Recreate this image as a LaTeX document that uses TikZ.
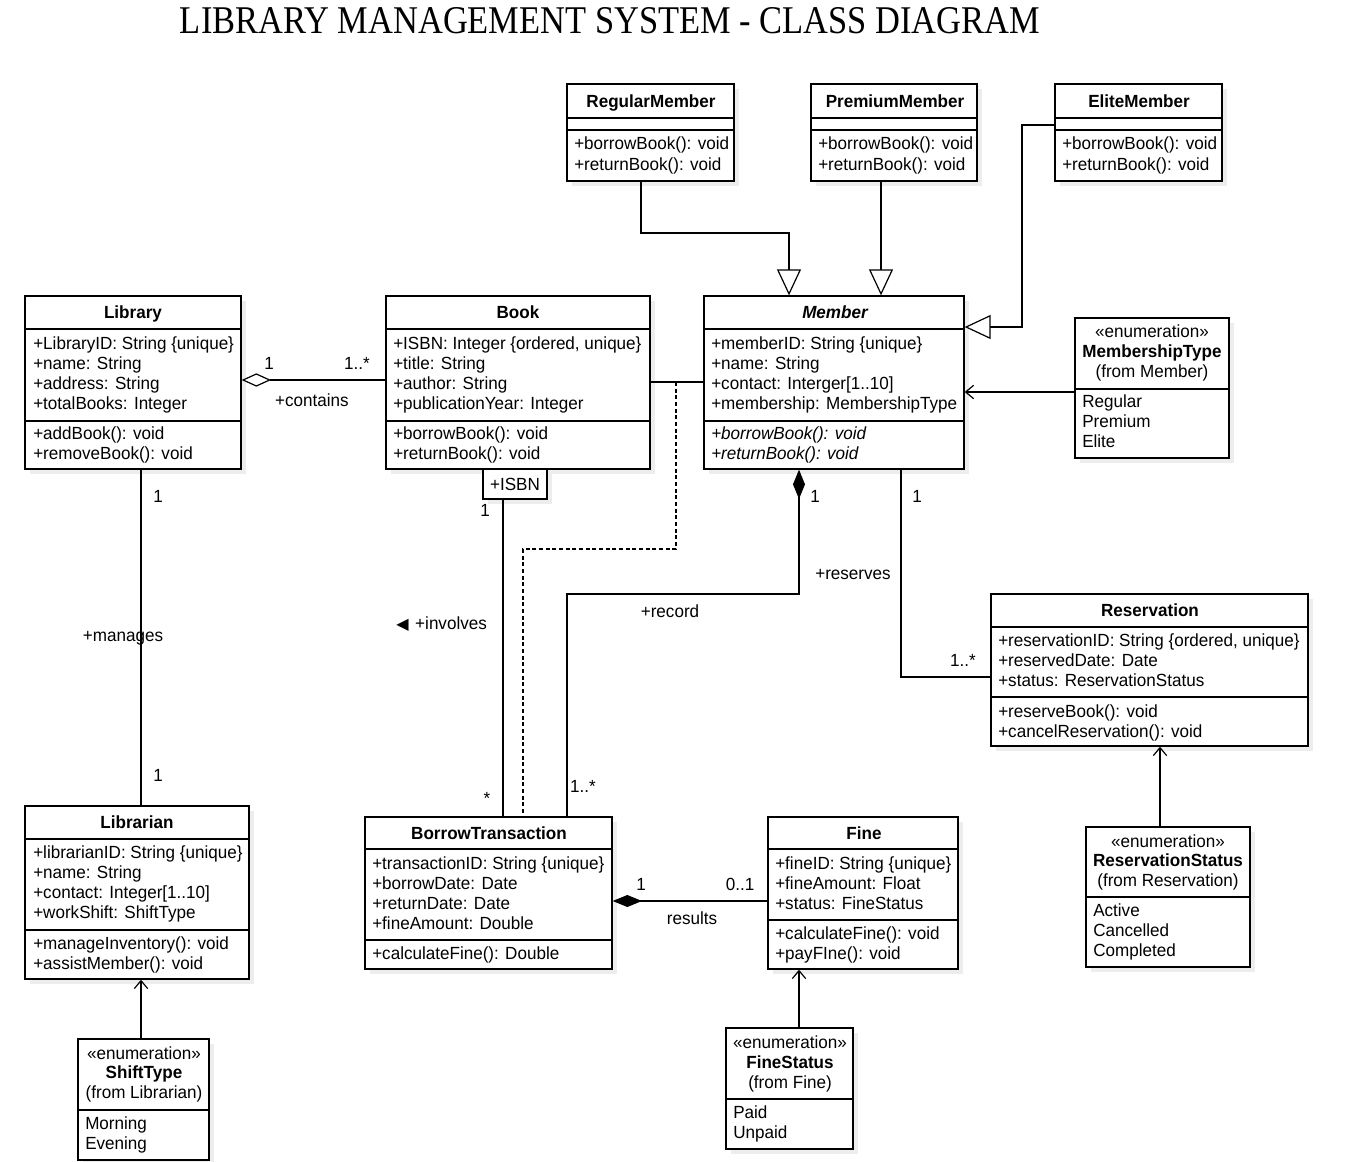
\documentclass[tikz,border=0pt]{standalone}
\usepackage{fontspec}
\usepackage{graphicx}
\setmainfont{Liberation Sans}[FakeStretch=0.97]
\newfontfamily\titlefont{Liberation Serif}
\newfontfamily\symfont{DejaVu Sans}
\usetikzlibrary{arrows.meta,fit,calc,shadows}
\newcommand\cls[5]{\node[box, fit={(#2,#3) (#4,#5)}] (#1) {};}
\newcommand\csep[2]{\draw[boxline] (#1.west |- 0,#2) -- (#1.east |- 0,#2);}
\newcommand\txL[4]{\node[lbl, anchor=west] (#1) at (#2,#3) {#4};}
\newcommand\txC[4]{\node[lbl] (#1) at (#2,#3) {#4};}
\begin{document}
\begin{tikzpicture}[x=0.75pt,y=-0.75pt,
  every node/.style={font=\fontsize{13.2}{15}\selectfont},
  box/.style={draw, fill=white, line width=1pt, inner sep=0pt,
     drop shadow={shadow xshift=4pt, shadow yshift=-4pt, fill=black!7, opacity=1}},
  boxline/.style={line width=1pt},
  lbl/.style={inner sep=0pt, text height=12.6pt, text depth=3pt},
  conn/.style={line width=0.9pt},
  gen/.style={conn, -{Triangle[length=19.5pt,width=18pt,fill=white]}},
  nav/.style={conn, -{Straight Barb[length=6pt,width=10pt]}},
  comp/.style={conn, {Diamond[length=22pt,width=9pt]}-},
  aggr/.style={conn, {Diamond[length=22pt,width=10pt,fill=white]}-},
  mult/.style={lbl}
]
\useasboundingbox (0,0) rectangle (1353,1162);
\fill[white] (0,0) rectangle (1353,1162);

% title
\node[inner sep=0pt, anchor=base] (title) at (610,34) {\resizebox{645pt}{19.5pt}{\titlefont LIBRARY MANAGEMENT SYSTEM - CLASS DIAGRAM}};

% RegularMember
\cls{reg}{567}{84}{734}{181}
\csep{reg}{118}\csep{reg}{130}
\txC{reg-n}{651}{101}{\bfseries RegularMember}
\txL{reg-o1}{574}{143}{+borrowBook(): void}
\txL{reg-o2}{574}{164}{+returnBook(): void}
% PremiumMember
\cls{pre}{811}{84}{977}{181}
\csep{pre}{118}\csep{pre}{130}
\txC{pre-n}{895}{101}{\bfseries PremiumMember}
\txL{pre-o1}{818}{143}{+borrowBook(): void}
\txL{pre-o2}{818}{164}{+returnBook(): void}
% EliteMember
\cls{eli}{1055}{84}{1222}{181}
\csep{eli}{118}\csep{eli}{130}
\txC{eli-n}{1139}{101}{\bfseries EliteMember}
\txL{eli-o1}{1062}{143}{+borrowBook(): void}
\txL{eli-o2}{1062}{164}{+returnBook(): void}

% Library
\cls{lib}{25}{296}{241}{469}
\csep{lib}{329}\csep{lib}{421}
\txC{lib-n}{133}{312}{\bfseries Library}
\txL{lib-a1}{33}{343}{+LibraryID: String \{unique\}}
\txL{lib-a2}{33}{363}{+name: String}
\txL{lib-a3}{33}{383}{+address: String}
\txL{lib-a4}{33}{403}{+totalBooks: Integer}
\txL{lib-o1}{33}{433}{+addBook(): void}
\txL{lib-o2}{33}{453}{+removeBook(): void}

% Book
\cls{book}{386}{296}{650}{469}
\csep{book}{329}\csep{book}{421}
\txC{book-n}{518}{312}{\bfseries Book}
\txL{book-a1}{393}{343}{+ISBN: Integer \{ordered, unique\}}
\txL{book-a2}{393}{363}{+title: String}
\txL{book-a3}{393}{383}{+author: String}
\txL{book-a4}{393}{403}{+publicationYear: Integer}
\txL{book-o1}{393}{433}{+borrowBook(): void}
\txL{book-o2}{393}{453}{+returnBook(): void}
% qualifier
\cls{isbn}{483}{469}{547}{499}
\txC{isbn-t}{515}{484}{+ISBN}

% Member
\cls{mem}{704}{296}{964}{469}
\csep{mem}{329}\csep{mem}{421}
\txC{mem-n}{835}{312}{\bfseries\itshape Member}
\txL{mem-a1}{711}{343}{+memberID: String \{unique\}}
\txL{mem-a2}{711}{363}{+name: String}
\txL{mem-a3}{711}{383}{+contact: Interger[1..10]}
\txL{mem-a4}{711}{403}{+membership: MembershipType}
\txL{mem-o1}{711}{433}{\itshape +borrowBook(): void}
\txL{mem-o2}{711}{453}{\itshape +returnBook(): void}

% MembershipType
\cls{mt}{1075}{318}{1229}{458}
\csep{mt}{389}
\txC{mt-s}{1152}{331}{«enumeration»}
\txC{mt-n}{1152}{351}{\bfseries MembershipType}
\txC{mt-f}{1152}{371}{(from Member)}
\txL{mt-1}{1082}{401}{Regular}
\txL{mt-2}{1082}{421}{Premium}
\txL{mt-3}{1082}{441}{Elite}

% Reservation
\cls{res}{991}{594}{1308}{746}
\csep{res}{627}\csep{res}{697}
\txC{res-n}{1150}{610}{\bfseries Reservation}
\txL{res-a1}{998}{640}{+reservationID: String \{ordered, unique\}}
\txL{res-a2}{998}{660}{+reservedDate: Date}
\txL{res-a3}{998}{680}{+status: ReservationStatus}
\txL{res-o1}{998}{711}{+reserveBook(): void}
\txL{res-o2}{998}{731}{+cancelReservation(): void}

% Librarian
\cls{lbn}{25}{806}{249}{979}
\csep{lbn}{839}\csep{lbn}{930}
\txC{lbn-n}{137}{822}{\bfseries Librarian}
\txL{lbn-a1}{33}{852}{+librarianID: String \{unique\}}
\txL{lbn-a2}{33}{872}{+name: String}
\txL{lbn-a3}{33}{892}{+contact: Integer[1..10]}
\txL{lbn-a4}{33}{912}{+workShift: ShiftType}
\txL{lbn-o1}{33}{943}{+manageInventory(): void}
\txL{lbn-o2}{33}{963}{+assistMember(): void}

% BorrowTransaction
\cls{bt}{365}{817}{612}{969}
\csep{bt}{849}\csep{bt}{940}
\txC{bt-n}{489}{833}{\bfseries BorrowTransaction}
\txL{bt-a1}{372}{863}{+transactionID: String \{unique\}}
\txL{bt-a2}{372}{883}{+borrowDate: Date}
\txL{bt-a3}{372}{903}{+returnDate: Date}
\txL{bt-a4}{372}{923}{+fineAmount: Double}
\txL{bt-o1}{372}{953}{+calculateFine(): Double}

% Fine
\cls{fine}{768}{817}{958}{969}
\csep{fine}{849}\csep{fine}{920}
\txC{fine-n}{864}{833}{\bfseries Fine}
\txL{fine-a1}{775}{863}{+fineID: String \{unique\}}
\txL{fine-a2}{775}{883}{+fineAmount: Float}
\txL{fine-a3}{775}{903}{+status: FineStatus}
\txL{fine-o1}{775}{933}{+calculateFine(): void}
\txL{fine-o2}{775}{953}{+payFIne(): void}

% ReservationStatus
\cls{rs}{1086}{827}{1250}{967}
\csep{rs}{897}
\txC{rs-s}{1168}{841}{«enumeration»}
\txC{rs-n}{1168}{860}{\bfseries ReservationStatus}
\txC{rs-f}{1168}{880}{(from Reservation)}
\txL{rs-1}{1093}{910}{Active}
\txL{rs-2}{1093}{930}{Cancelled}
\txL{rs-3}{1093}{950}{Completed}

% ShiftType
\cls{st}{78}{1039}{209}{1160}
\csep{st}{1110}
\txC{st-s}{144}{1053}{«enumeration»}
\txC{st-n}{144}{1072}{\bfseries ShiftType}
\txC{st-f}{144}{1092}{(from Librarian)}
\txL{st-1}{85}{1123}{Morning}
\txL{st-2}{85}{1143}{Evening}

% FineStatus
\cls{fs}{726}{1028}{853}{1149}
\csep{fs}{1099}
\txC{fs-s}{790}{1042}{«enumeration»}
\txC{fs-n}{790}{1062}{\bfseries FineStatus}
\txC{fs-f}{790}{1082}{(from Fine)}
\txL{fs-1}{733}{1112}{Paid}
\txL{fs-2}{733}{1132}{Unpaid}

% ---------- connectors ----------
% generalizations
\draw[gen] (reg.south -| 641,0) -- (641,233) -- (789,233) -- (mem.north -| 789,0);
\draw[gen] (pre.south -| 881,0) -- (mem.north -| 881,0);
\draw[gen] (eli.west |- 0,125) -- (1022,125) -- (1022,327) -- (mem.east |- 0,327);
% enumerations
\draw[nav] (mt.west |- 0,392) -- (mem.east |- 0,392);
\draw[nav] (st.north -| 141,0) -- (lbn.south -| 141,0);
\draw[nav] (fs.north -| 799,0) -- (fine.south -| 799,0);
\draw[nav] (rs.north -| 1160,0) -- (res.south -| 1160,0);
% Library - Book aggregation
\draw[aggr] (lib.east |- 0,380) -- (book.west |- 0,380);
\txC{m1}{269}{363}{1}
\txC{m2}{357}{363}{1..*}
\txC{r1}{312}{400}{+contains}
% Book - Member association + association class
\draw[conn] (book.east |- 0,382) -- (mem.west |- 0,382);
\coordinate (acl) at (676,382);
\draw[conn, dashed, dash pattern=on 3pt off 2pt] (acl) -- (676,549) -- (523,549) -- (bt.north -| 523,0);
% Library - Librarian
\draw[conn] (lib.south -| 141,0) -- (lbn.north -| 141,0);
\txC{m3}{158}{496}{1}
\txC{r2}{123}{635}{+manages}
\txC{m4}{158}{775}{1}
% Book(ISBN) - BorrowTransaction
\draw[conn] (isbn.south -| 503,0) -- (bt.north -| 503,0);
\txC{m5}{485}{510}{1}
\txC{m6}{487}{798}{*}
\node[lbl, anchor=west] (r3) at (396,623) {{\symfont\fontsize{12}{13}\selectfont ◀}\hspace{5pt}+involves};
% Member - BorrowTransaction composition
\draw[comp] (mem.south -| 799,0) -- (799,594) -- (567,594) -- (bt.north -| 567,0);
\txC{m7}{815}{496}{1}
\txC{r4}{670}{611}{+record}
\txC{m8}{583}{786}{1..*}
% Member - Reservation
\draw[conn] (mem.south -| 901,0) -- (901,677) -- (res.west |- 0,677);
\txC{m9}{917}{496}{1}
\txC{r5}{853}{573}{+reserves}
\txC{m10}{963}{660}{1..*}
% BorrowTransaction - Fine composition
\draw[comp] (bt.east |- 0,901) -- (fine.west |- 0,901);
\txC{m11}{641}{884}{1}
\txC{m12}{740}{884}{0..1}
\txC{r6}{692}{918}{results}
\end{tikzpicture}
\end{document}
